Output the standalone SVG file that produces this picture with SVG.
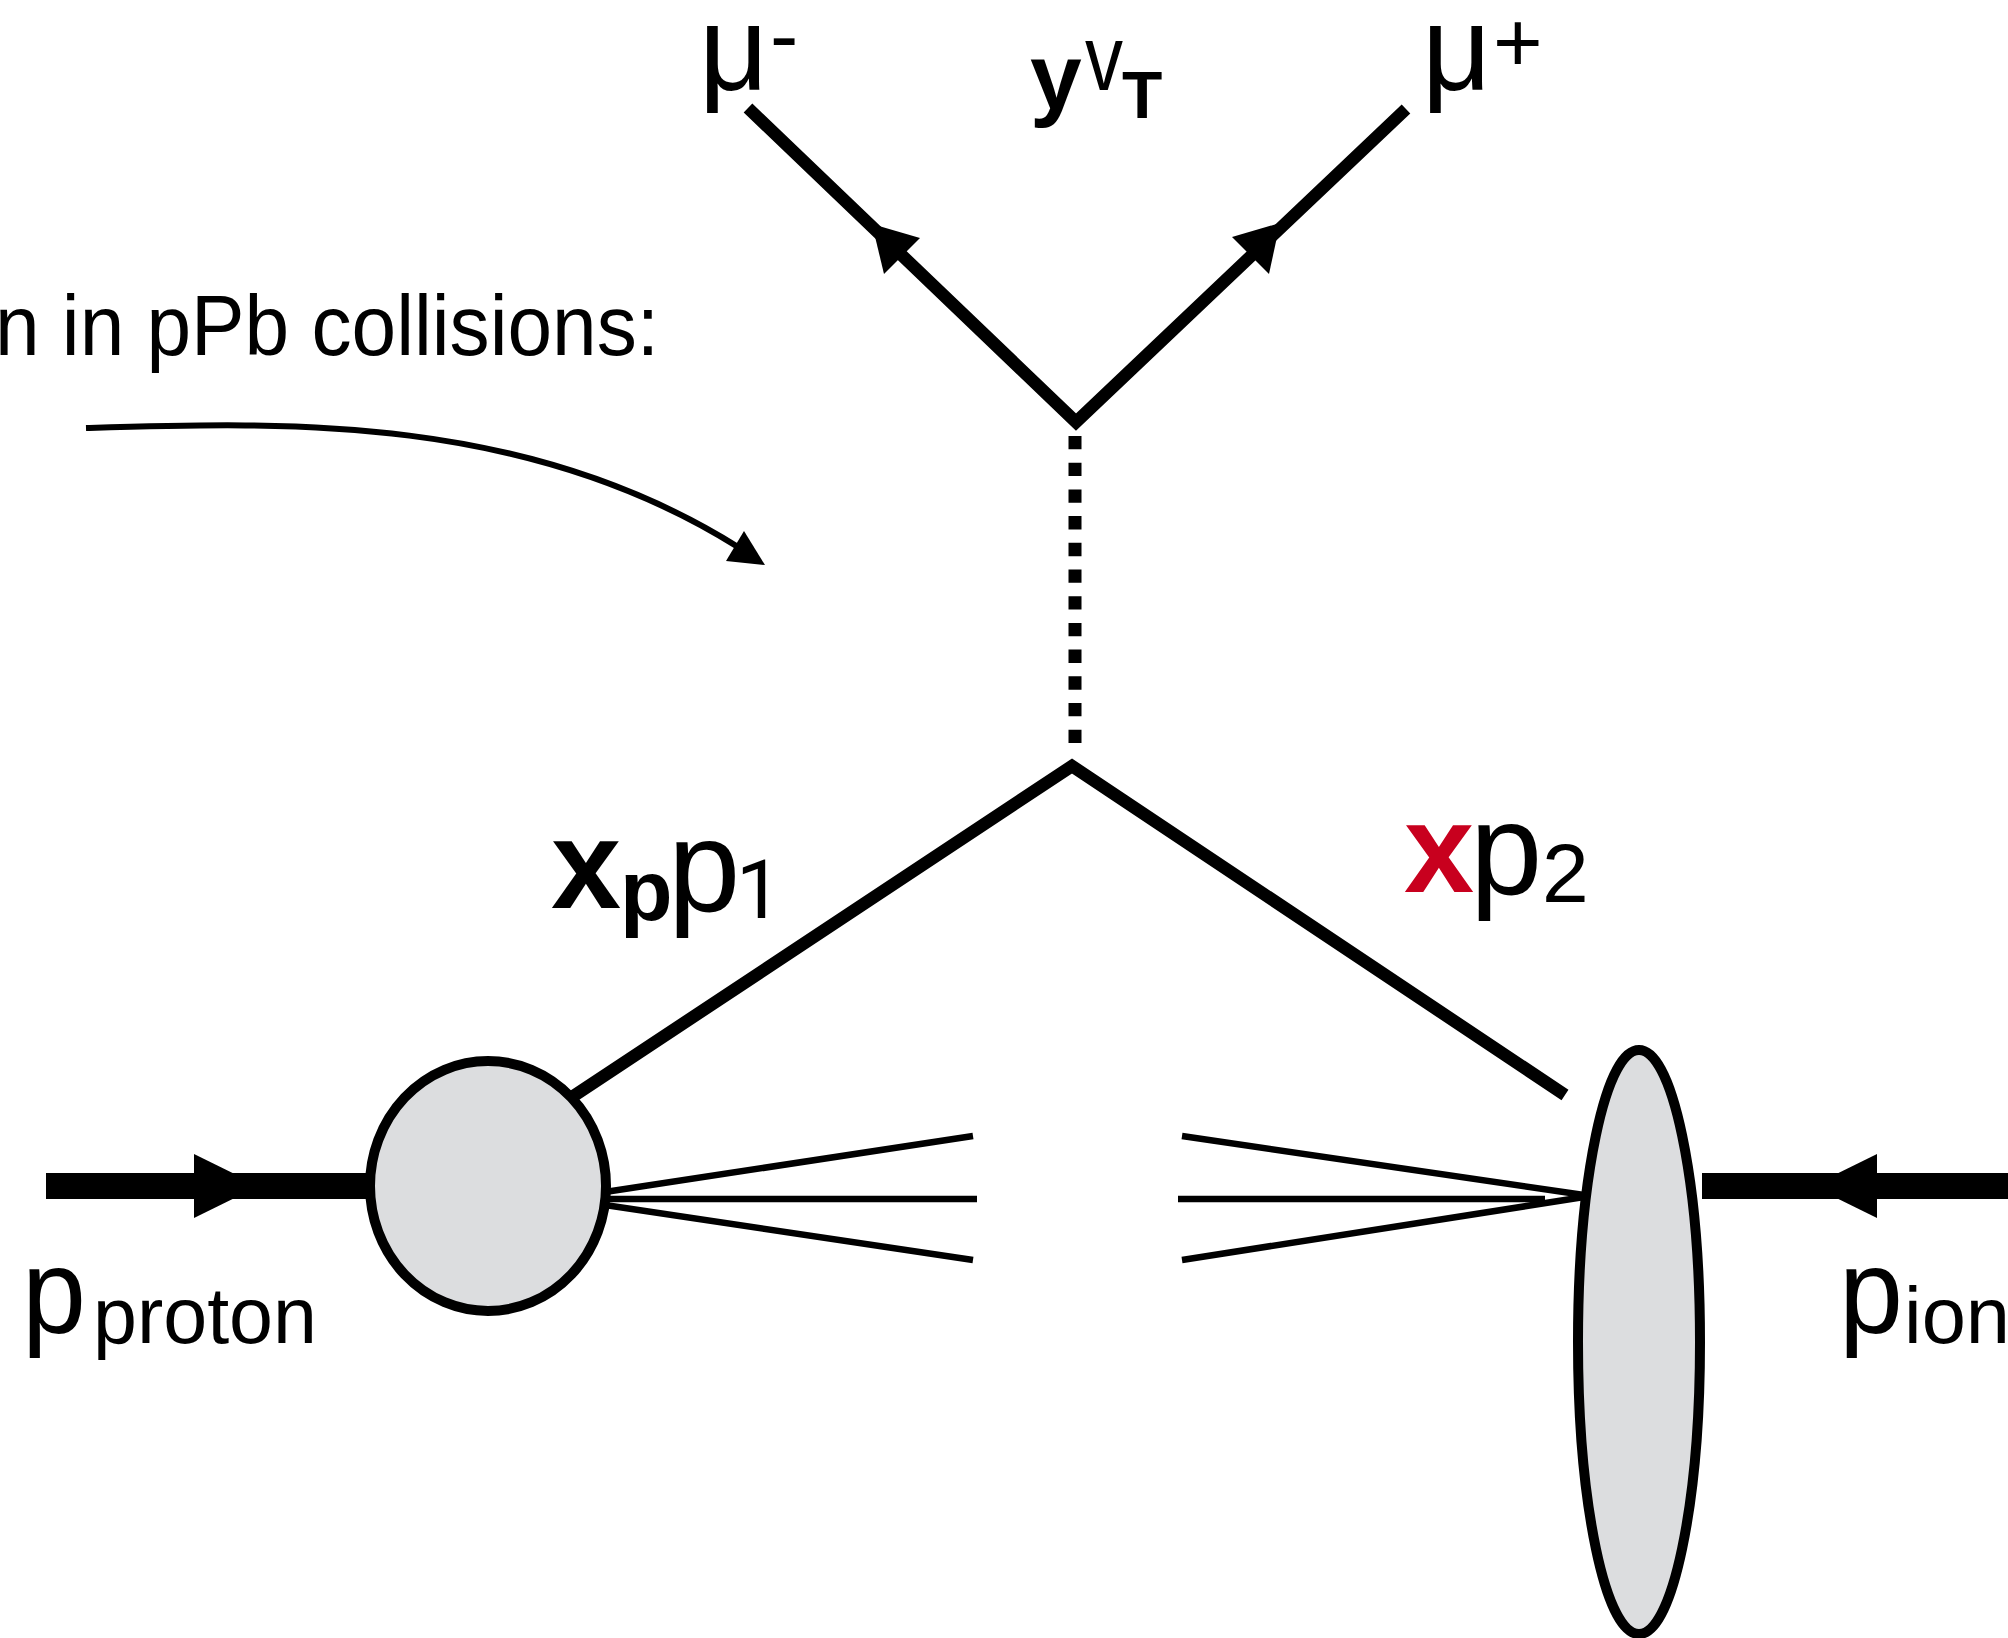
<svg xmlns="http://www.w3.org/2000/svg" width="2008" height="1638" viewBox="0 0 2008 1638">
<style>
text { font-family: "Liberation Sans", Arial, Helvetica, sans-serif; fill: #000; }
.b { font-weight: bold; }
.red { fill: #c8001e; }
.one { font-family: Roboto, "Liberation Sans", sans-serif; }
.fl { stroke: #000; fill: none; stroke-width: 12.5; stroke-linejoin: miter; stroke-miterlimit: 10; }
.thin { stroke: #000; fill: none; stroke-width: 6.5; }
.curve { stroke: #000; fill: none; stroke-width: 6; }
.dots { stroke: #000; fill: none; stroke-width: 13; stroke-dasharray: 13.35 13.35; }
.beam { fill: #000; }
.ah { fill: #000; }
.blob { fill: #dcdddf; stroke: #000; stroke-width: 10; }
</style>
<rect width="2008" height="1638" fill="#fff"/>
<g id="connectors">
  <polyline class="fl" points="748,108 1076,422 1406,109"/>
  <polygon class="ah" points="872,224 920,238 884,274"/>
  <polygon class="ah" points="1280,223 1232,237 1269,274"/>
  <line class="dots" x1="1075" y1="436" x2="1075" y2="744"/>
  <polyline class="fl" points="560,1105 1072,766 1565,1095"/>
  <line class="thin" x1="605" y1="1192" x2="973" y2="1136"/>
  <line class="thin" x1="605" y1="1199" x2="977" y2="1199"/>
  <line class="thin" x1="605" y1="1205" x2="973" y2="1260"/>
  <line class="thin" x1="1182" y1="1136" x2="1584" y2="1195"/>
  <line class="thin" x1="1178" y1="1199" x2="1545" y2="1199"/>
  <line class="thin" x1="1182" y1="1260" x2="1584" y2="1197"/>
  <rect class="beam" x="46" y="1173" width="324" height="26"/>
  <polygon class="ah" points="259,1186 194,1154 194,1218"/>
  <rect class="beam" x="1702" y="1173" width="306" height="26"/>
  <polygon class="ah" points="1812,1186 1877,1154 1877,1218"/>
  <path class="curve" d="M86,428 C286,422 526,414 738,547"/>
  <polygon class="ah" points="765,565 744,531 726,561"/>
</g>
<g id="proton-blob">
  <ellipse class="blob" cx="488" cy="1186" rx="118" ry="125"/>
</g>
<g id="ion-blob">
  <ellipse class="blob" cx="1639" cy="1342" rx="61" ry="292"/>
</g>
<g id="label-caption">
  <text x="-5" y="355" font-size="86" textLength="664" lengthAdjust="spacingAndGlyphs">n in pPb collisions:</text>
</g>
<g id="label-mu-minus">
  <text x="699" y="90" font-size="120">μ</text>
  <text x="770" y="64" font-size="85">-</text>
</g>
<g id="label-mu-plus">
  <text x="1422" y="90" font-size="120">μ</text>
  <text x="1493" y="72" font-size="85">+</text>
</g>
<g id="label-yvT">
  <text class="b" x="1030" y="109" font-size="93">y</text>
  <text x="1085" y="90" font-size="92" textLength="38" lengthAdjust="spacingAndGlyphs">v</text>
  <text class="b" x="1122" y="118" font-size="66">T</text>
</g>
<g id="label-xp-p1">
  <text class="b" x="551" y="908" font-size="126">x</text>
  <text class="b" x="620" y="920" font-size="86">p</text>
  <text x="668" y="911" font-size="130">p</text>
  <text class="one" x="736" y="918" font-size="82">1</text>
</g>
<g id="label-x-p2">
  <text class="b red" x="1404" y="892" font-size="126">x</text>
  <text x="1470" y="894" font-size="130">p</text>
  <text x="1542" y="902" font-size="84">2</text>
</g>
<g id="label-p-proton">
  <text x="22" y="1333" font-size="120" textLength="64" lengthAdjust="spacingAndGlyphs">p</text>
  <text x="93" y="1343" font-size="80" textLength="224" lengthAdjust="spacingAndGlyphs">proton</text>
</g>
<g id="label-p-ion">
  <text x="1839" y="1333" font-size="120" textLength="64" lengthAdjust="spacingAndGlyphs">p</text>
  <text x="1904" y="1343" font-size="80" textLength="106" lengthAdjust="spacingAndGlyphs">ion</text>
</g>
</svg>
